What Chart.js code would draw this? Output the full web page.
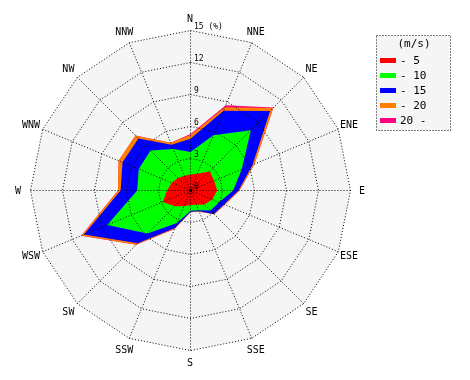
<!DOCTYPE html>
<html>
<head>
<meta charset="utf-8">
<script src="https://cdn.jsdelivr.net/npm/chart.js@4.4.0/dist/chart.umd.min.js"></script>
<style>
  html, body { margin: 0; padding: 0; background: #fff; }
</style>
</head>
<body>
<canvas id="myChart" width="470" height="380"></canvas>
<script>
// 16 wind directions, clockwise from north
var arah = ['N', 'NNE', 'NE', 'ENE', 'E', 'ESE', 'SE', 'SSE', 'S', 'SSW', 'SW', 'WSW', 'W', 'WNW', 'NW', 'NNW'];

// frequency (%) per speed class and direction
var kelas5  = [1.5, 1.7, 2.55, 2.4, 2.5, 2.2, 1.85, 1.45, 1.35, 1.6, 2.1, 2.8, 2.2, 1.9, 1.65, 1.5];
var kelas10 = [2.1, 3.9, 5.45, 2.8, 1.5, 0.7, 0.8, 0.55, 0.55, 1.7, 3.6, 5.65, 2.8, 3.35, 3.65, 2.7];
var kelas15 = [1.25, 2.5, 2.55, 1.1, 0.5, 0.5, 0.45, 0.1, 0.1, 0.5, 1.3, 2.35, 1.55, 1.65, 1.6, 0.45];
var kelas20 = [0.35, 0.35, 0.4, 0.2, 0.1, 0.1, 0.05, 0.05, 0.05, 0.1, 0.2, 0.25, 0.25, 0.4, 0.4, 0.2];
var kelasAtas20 = [0.1, 0.2, 0.05, 0, 0, 0, 0, 0, 0, 0, 0, 0.05, 0, 0, 0, 0];

var namaKelas = ['- 5', '- 10', '- 15', '- 20', '20 -'];
var warnaKelas = ['#ff0000', '#00ff00', '#0000ff', '#ff8000', '#ff0080'];

// radial tick labels
var nilaiTick = [0, 3, 6, 9, 12, 15];
var teksTick = ['0', '3', '6', '9', '12', '15 (%)'];

// stack the classes so every polygon reaches from the centre
var semuaKelas = [kelas5, kelas10, kelas15, kelas20, kelasAtas20];
var kumulatif = [];
var jalan = arah.map(function() { return 0; });
semuaKelas.forEach(function(kelas) {
    jalan = jalan.map(function(v, i) { return v + kelas[i]; });
    kumulatif.push(jalan.slice());
});

var datasets = kumulatif.map(function(data, k) {
    return {
        label: namaKelas[k],
        data: data,
        backgroundColor: warnaKelas[k],
        borderColor: 'rgba(0,0,0,0)',
        borderWidth: 0,
        fill: 'origin',
        pointRadius: 0,
        pointHoverRadius: 0,
        tension: 0
    };
});

var MONO = '"DejaVu Sans Mono", monospace';

var roseExtras = {
    id: 'roseExtras',
    beforeDraw: function(chart) {
        // half pixel shift keeps the straight dotted lines crisp
        chart.ctx.save();
        chart.ctx.translate(0.5, 0.5);
    },
    beforeDatasetsDraw: function(chart) {
        // light grey plate behind the rose
        var r = chart.scales.r, ctx = chart.ctx;
        ctx.save();
        ctx.beginPath();
        for (var i = 0; i < arah.length; i++) {
            var p = r.getPointPosition(i, r.drawingArea);
            if (i === 0) ctx.moveTo(p.x, p.y); else ctx.lineTo(p.x, p.y);
        }
        ctx.closePath();
        ctx.fillStyle = '#f5f5f5';
        ctx.fill();
        ctx.restore();
    },
    afterDraw: function(chart) {
        var r = chart.scales.r, ctx = chart.ctx;
        ctx.restore();
        ctx.save();
        ctx.fillStyle = '#000';

        // small dot at the centre
        ctx.beginPath();
        ctx.arc(r.xCenter + 0.5, r.yCenter + 0.5, 1.8, 0, Math.PI * 2);
        ctx.fill();

        // direction names
        ctx.font = '10px ' + MONO;
        ctx.textAlign = 'center';
        ctx.textBaseline = 'middle';
        arah.forEach(function(nama, i) {
            var p = r.getPointPosition(i, r.drawingArea + 12);
            ctx.fillText(nama, p.x, p.y + 1);
        });

        // percentage ticks along the north axis
        ctx.font = '8px ' + MONO;
        ctx.textAlign = 'left';
        nilaiTick.forEach(function(v, i) {
            var y = r.yCenter - r.getDistanceFromCenterForValue(v);
            ctx.fillText(teksTick[i], r.xCenter + 4, y - 3);
        });

        // legend box
        var bx = 376.5, by = 35.5, bw = 74, bh = 95;
        ctx.fillStyle = '#f5f5f5';
        ctx.fillRect(bx, by, bw, bh);
        ctx.setLineDash([1, 2]);
        ctx.strokeStyle = '#000';
        ctx.lineWidth = 1;
        ctx.strokeRect(bx, by, bw, bh);
        ctx.setLineDash([]);
        ctx.fillStyle = '#000';
        ctx.font = '11px ' + MONO;
        ctx.textAlign = 'center';
        ctx.fillText('(m/s)', 414, 44);
        ctx.textAlign = 'left';
        namaKelas.forEach(function(nama, k) {
            var y = 60 + 15 * k;
            ctx.fillStyle = warnaKelas[k];
            ctx.fillRect(380, y - 2, 16, 5);
            ctx.fillStyle = '#000';
            ctx.fillText(nama, 400, y + 1);
        });
        ctx.restore();
    }
};

var ctx = document.getElementById('myChart').getContext('2d');
var myChart = new Chart(ctx, {
    type: 'radar',
    data: {
        labels: arah,
        datasets: datasets
    },
    options: {
        responsive: false,
        animation: false,
        events: [],
        layout: {
            padding: { left: 30, top: 30, right: 120, bottom: 30 }
        },
        plugins: {
            legend: { display: false },
            tooltip: { enabled: false }
        },
        scales: {
            r: {
                min: 0,
                max: 15,
                ticks: { stepSize: 3, display: false },
                pointLabels: { display: false },
                grid: { color: '#000', lineWidth: 1, z: 1 },
                border: { dash: [1, 2] },
                angleLines: { display: true, color: '#000', lineWidth: 1, borderDash: [1, 2] }
            }
        }
    },
    plugins: [roseExtras]
});
</script>
</body>
</html>
